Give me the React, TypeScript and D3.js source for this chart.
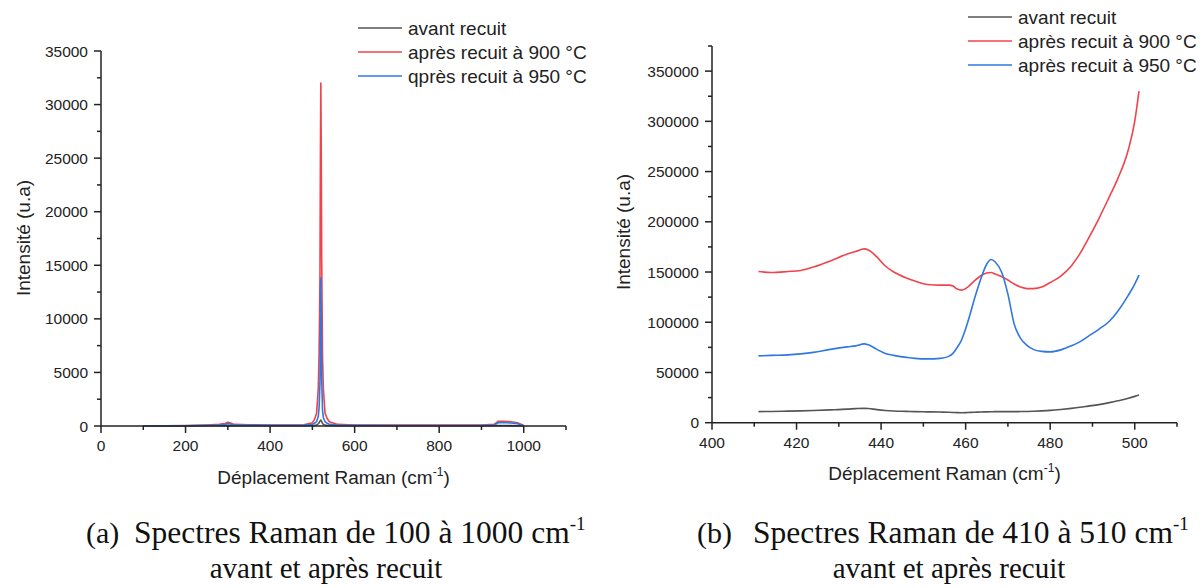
import React from "react";
import * as d3 from "d3";

// ---- Full-range spectra (100–1000 cm-1) ----
const fullShift = [100, 150, 200, 250, 280, 295, 300, 305, 315, 350, 400, 450, 480, 500, 505, 510, 514, 516, 518, 519, 520, 521, 522, 524, 526, 530, 535, 540, 560, 600, 700, 800, 900, 930, 940, 950, 970, 985, 995, 1000];
const fullAvant = [10, 12, 15, 20, 25, 30, 35, 30, 25, 22, 20, 22, 25, 40, 60, 100, 200, 300, 450, 520, 550, 500, 420, 250, 150, 80, 50, 40, 30, 25, 20, 20, 25, 30, 40, 40, 35, 30, 20, 10];
const full900 = [0, 20, 50, 100, 150, 250, 350, 300, 150, 120, 100, 100, 120, 300, 600, 1200, 3500, 7000, 14000, 25000, 32000, 26000, 16000, 6500, 3500, 1200, 700, 400, 150, 100, 80, 80, 100, 150, 450, 450, 400, 300, 150, 50];
const full950 = [0, 10, 30, 70, 100, 170, 220, 180, 100, 80, 70, 70, 80, 150, 250, 400, 900, 1800, 4000, 9000, 13800, 10000, 4500, 1500, 800, 400, 250, 150, 80, 60, 50, 50, 60, 90, 300, 320, 280, 220, 100, 30];

// ---- Zoomed spectra (410–510 cm-1) ----
const zoomShift = [411, 414, 418, 421, 424, 428, 432, 434, 436, 437, 439, 441, 443, 446, 448, 451, 454, 456, 457, 458, 459, 460.5, 462, 463.5, 465, 466, 467, 468.5, 470, 471.5, 473, 474.5, 476, 478, 480, 482.5, 485, 487, 489, 491.5, 494, 496, 498.5, 500, 501];
const zoomAvant = [11000, 11200, 11500, 11800, 12200, 12800, 13500, 14000, 14300, 14100, 13000, 12200, 11700, 11300, 11000, 10800, 10600, 10400, 10200, 10000, 9900, 10100, 10400, 10600, 10800, 10900, 11000, 11000, 11000, 11000, 11100, 11200, 11400, 11800, 12300, 13200, 14300, 15300, 16500, 18000, 20000, 21800, 24300, 26200, 27600];
const zoom900 = [150500, 149500, 150500, 151500, 155000, 161000, 168000, 170500, 173000, 172000, 165000, 156000, 150000, 144000, 141000, 137500, 137000, 137000, 136000, 133000, 132000, 135000, 141000, 146000, 149000, 149500, 148000, 145500, 142000, 138000, 135000, 133500, 133500, 135000, 139500, 146000, 156000, 168000, 183000, 203000, 225000, 243000, 272000, 300000, 330000];
const zoom950 = [66500, 67000, 67500, 68500, 70000, 73000, 75500, 76500, 78500, 77500, 73000, 69000, 67000, 65000, 64000, 63500, 64000, 66000, 69000, 75000, 82000, 100000, 122000, 142000, 158000, 162500, 160000, 150000, 128000, 98000, 84000, 77000, 73000, 71000, 70500, 72500, 76500, 80500, 86000, 93000, 101000, 111000, 127000, 138000, 147000];

// ---- Axis ticks ----
const fullXMajor = [0, 200, 400, 600, 800, 1000];
const fullXMinor = [100, 300, 500, 700, 900, 1100];
const fullYMajor = [0, 5000, 10000, 15000, 20000, 25000, 30000, 35000];
const fullYMinor = [2500, 7500, 12500, 17500, 22500, 27500, 32500];
const zoomXMajor = [400, 420, 440, 460, 480, 500];
const zoomXMinor = [410, 430, 450, 470, 490, 510];
const zoomYMajor = [0, 50000, 100000, 150000, 200000, 250000, 300000, 350000];
const zoomYMinor = [25000, 75000, 125000, 175000, 225000, 275000, 325000, 375000];

const colors = { avant: "#555555", r900: "#f0434b", r950: "#2e78e0" };
const fullLegend = ["avant recuit", "après recuit à 900 °C", "qprès recuit à 950 °C"];
const zoomLegend = ["avant recuit", "après recuit à 900 °C", "après recuit à 950 °C"];

const SANS = "'Liberation Sans', Arial, sans-serif";
const SERIF = "'Liberation Serif', 'Times New Roman', serif";

type PanelProps = {
  xs: number[];
  series: { values: number[]; color: string }[];
  xDomain: [number, number];
  xRange: [number, number];
  yDomain: [number, number];
  yRange: [number, number];
  xMajor: number[];
  xMinor: number[];
  yMajor: number[];
  yMinor: number[];
  yTitleX: number;
  yTitleY: number;
  xTitleY: number;
  legend: string[];
  legendX: number;
  legendY: number;
  curve: d3.CurveFactory;
};

function Panel(p: PanelProps) {
  const x = d3.scaleLinear().domain(p.xDomain).range(p.xRange);
  const y = d3.scaleLinear().domain(p.yDomain).range(p.yRange);
  const [x0, x1] = p.xRange;
  const [y0, y1] = p.yRange;
  const axisColor = "#222";
  const line = (vals: number[]) =>
    d3
      .line<number>()
      .x((_, i) => x(p.xs[i]))
      .y((v) => y(v))
      .curve(p.curve)(vals) || "";
  const legendColors = [colors.avant, colors.r900, colors.r950];
  return (
    <g>
      {p.series.map((s, i) => (
        <path key={i} d={line(s.values)} fill="none" stroke={s.color} strokeWidth={1.6} strokeLinejoin="round" />
      ))}
      {/* axes */}
      <line x1={x0} x2={x1} y1={y0} y2={y0} stroke={axisColor} strokeWidth={1.5} />
      <line x1={x0} x2={x0} y1={y0} y2={y1} stroke={axisColor} strokeWidth={1.5} />
      {p.xMajor.map((t) => (
        <g key={"xM" + t}>
          <line x1={x(t)} x2={x(t)} y1={y0} y2={y0 + 7} stroke={axisColor} strokeWidth={1.5} />
          <text x={x(t)} y={y0 + 25} textAnchor="middle" fontFamily={SANS} fontSize={15.5} fill="#222">
            {t}
          </text>
        </g>
      ))}
      {p.xMinor.map((t) => (
        <line key={"xm" + t} x1={x(t)} x2={x(t)} y1={y0} y2={y0 + 4} stroke={axisColor} strokeWidth={1.5} />
      ))}
      {p.yMajor.map((t) => (
        <g key={"yM" + t}>
          <line x1={x0 - 7} x2={x0} y1={y(t)} y2={y(t)} stroke={axisColor} strokeWidth={1.5} />
          <text x={x0 - 13} y={y(t) + 5.5} textAnchor="end" fontFamily={SANS} fontSize={15.5} fill="#222">
            {t}
          </text>
        </g>
      ))}
      {p.yMinor.map((t) => (
        <line key={"ym" + t} x1={x0 - 4} x2={x0} y1={y(t)} y2={y(t)} stroke={axisColor} strokeWidth={1.5} />
      ))}
      {/* axis titles */}
      <text
        transform={`translate(${p.yTitleX},${p.yTitleY}) rotate(-90)`}
        textAnchor="middle"
        fontFamily={SANS}
        fontSize={19}
        fill="#222"
      >
        Intensité (u.a)
      </text>
      <text x={(x0 + x1) / 2} y={p.xTitleY} textAnchor="middle" fontFamily={SANS} fontSize={19} fill="#222">
        Déplacement Raman (cm
        <tspan fontSize={12} dy={-8}>-1</tspan>
        <tspan dy={8}>)</tspan>
      </text>
      {/* legend */}
      {p.legend.map((label, i) => (
        <g key={label}>
          <line
            x1={p.legendX}
            x2={p.legendX + 44}
            y1={p.legendY + i * 24}
            y2={p.legendY + i * 24}
            stroke={legendColors[i]}
            strokeWidth={1.6}
          />
          <text x={p.legendX + 50} y={p.legendY + i * 24 + 7} fontFamily={SANS} fontSize={19} fill="#222">
            {label}
          </text>
        </g>
      ))}
    </g>
  );
}

export default function App() {
  return (
    <svg
      width={1203}
      height={588}
      viewBox="0 0 1203 588"
      style={{ position: "absolute", left: 0, top: 0, background: "#fff" }}
    >
      <rect width={1203} height={588} fill="#fff" />
      <Panel
        xs={fullShift}
        series={[
          { values: fullAvant, color: colors.avant },
          { values: full900, color: colors.r900 },
          { values: full950, color: colors.r950 },
        ]}
        xDomain={[0, 1100]}
        xRange={[101, 566]}
        yDomain={[0, 35000]}
        yRange={[426, 51]}
        xMajor={fullXMajor}
        xMinor={fullXMinor}
        yMajor={fullYMajor}
        yMinor={fullYMinor}
        yTitleX={30}
        yTitleY={238}
        xTitleY={484}
        legend={fullLegend}
        legendX={358}
        legendY={28}
        curve={d3.curveLinear}
      />
      <Panel
        xs={zoomShift}
        series={[
          { values: zoomAvant, color: colors.avant },
          { values: zoom900, color: colors.r900 },
          { values: zoom950, color: colors.r950 },
        ]}
        xDomain={[400, 510]}
        xRange={[712, 1177]}
        yDomain={[0, 375000]}
        yRange={[422.7, 46]}
        xMajor={zoomXMajor}
        xMinor={zoomXMinor}
        yMajor={zoomYMajor}
        yMinor={zoomYMinor}
        yTitleX={630}
        yTitleY={232}
        xTitleY={480}
        legend={zoomLegend}
        legendX={968}
        legendY={17}
        curve={d3.curveMonotoneX}
      />
      {/* captions */}
      <g fontFamily={SERIF} fill="#111">
        <text x={86} y={543} fontSize={30}>(a)</text>
        <text x={134} y={543} fontSize={31.5}>
          Spectres Raman de 100 à 1000 cm
          <tspan fontSize={19} dy={-13}>-1</tspan>
        </text>
        <text x={326} y={578} textAnchor="middle" fontSize={29}>avant et après recuit</text>
        <text x={697} y={543} fontSize={30}>(b)</text>
        <text x={753} y={543} fontSize={31.5}>
          Spectres Raman de 410 à 510 cm
          <tspan fontSize={19} dy={-13}>-1</tspan>
        </text>
        <text x={949} y={578} textAnchor="middle" fontSize={29}>avant et après recuit</text>
      </g>
    </svg>
  );
}
